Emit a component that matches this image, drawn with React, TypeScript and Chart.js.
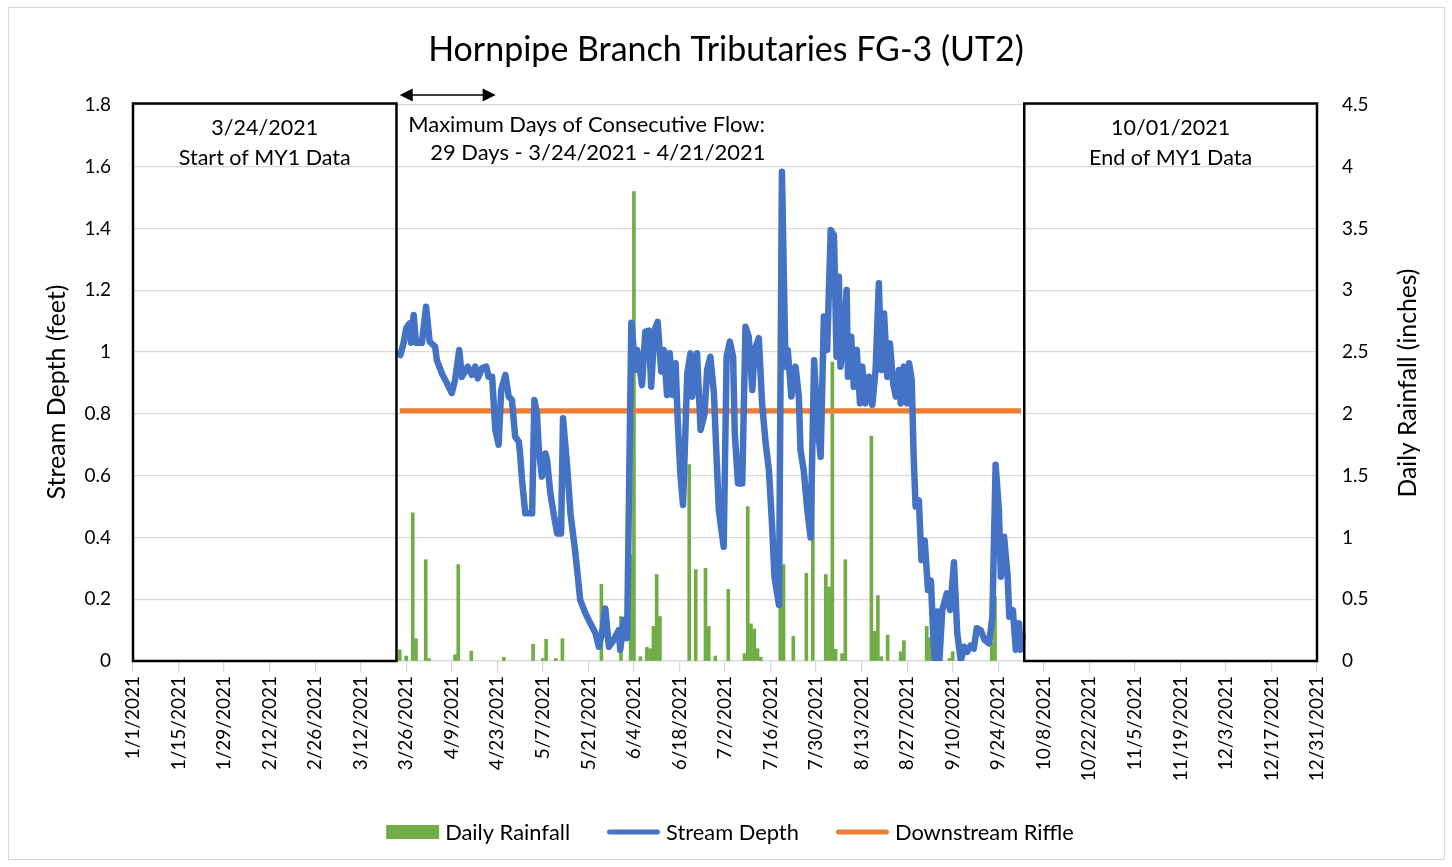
import React, { useEffect, useRef } from "react";
import { Chart, registerables } from "chart.js";

Chart.register(...registerables);

const FONT = "Lato, 'Open Sans', sans-serif";

const chartTitle = "Hornpipe Branch Tributaries FG-3 (UT2)";
const leftAxisTitle = "Stream Depth (feet)";
const rightAxisTitle = "Daily Rainfall (inches)";

const tickLabels = [
  "1/1/2021", "1/15/2021", "1/29/2021", "2/12/2021", "2/26/2021", "3/12/2021",
  "3/26/2021", "4/9/2021", "4/23/2021", "5/7/2021", "5/21/2021", "6/4/2021",
  "6/18/2021", "7/2/2021", "7/16/2021", "7/30/2021", "8/13/2021", "8/27/2021",
  "9/10/2021", "9/24/2021", "10/8/2021", "10/22/2021", "11/5/2021", "11/19/2021",
  "12/3/2021", "12/17/2021", "12/31/2021",
];

// day-of-year (0 = 1/1/2021) of each daily rainfall reading
const rainDay = [
  82, 84, 86, 87, 90, 91, 99, 100, 104, 114, 123, 126, 127, 130, 132,
  144, 150, 153, 154, 156, 158, 159, 160, 161, 162, 171, 173, 176, 177, 179,
  183, 188, 189, 190, 191, 192, 193, 199, 200, 203, 207, 209, 213, 214, 215,
  216, 218, 219, 227, 228, 229, 230, 232, 236, 237, 244, 245, 251, 252, 264, 265,
];
const rainIn = [
  0.09, 0.04, 1.2, 0.18, 0.82, 0.02, 0.05, 0.78, 0.08, 0.03, 0.135, 0.02, 0.175, 0.02, 0.18,
  0.62, 0.36, 0.86, 3.8, 0.035, 0.11, 0.1, 0.28, 0.7, 0.36, 1.59, 0.74, 0.75, 0.28, 0.04,
  0.58, 0.06, 1.25, 0.3, 0.26, 0.1, 0.03, 1.19, 0.78, 0.2, 0.71, 1.42, 0.7, 0.6, 2.42,
  0.095, 0.06, 0.82, 1.82, 0.24, 0.53, 0.035, 0.21, 0.075, 0.165, 0.28, 0.19, 0.02, 0.075, 0.15, 0.52,
];

// stream depth logger readings (day-of-year, feet)
const depthDay = [
  82.2, 83.2, 84, 85, 85.5, 86.3, 87, 88.8, 90.1, 91.2, 92.9, 93.4, 95, 96, 98, 99,
  100.3, 101.1, 102.9, 104.2, 105.2, 106, 107.3, 108.6, 109.3, 110.4, 111.4, 112.4, 113.2, 114.5,
  115.5, 116.5, 117.5, 118.6, 119, 119.6, 120.6, 122.7, 123.4, 124.2, 124.7, 125.7, 126.8, 127.3,
  128.3, 129.3, 130.4, 131.6, 132.2, 133.4, 134.5, 136, 137.5, 139.1, 140.6, 142.2, 143.2, 144.2,
  145.2, 146.3, 147.8, 149.3, 149.8, 150.9, 151.9, 153.2, 154.5, 155, 156.5, 157.5, 158.6, 159.3,
  160.3, 161.3, 162.4, 163.2, 164.2, 165, 166, 166.8, 167.5, 168.3, 169.1, 170.4, 171.4, 171.9,
  173.4, 174.5, 175.7, 176.5, 177.5, 178.6, 179.4, 180.1, 181.6, 182.5, 183.5, 184.5, 185, 186,
  187.3, 188.3, 189.3, 190.4, 191.1, 192.4, 193.4, 194.5, 195.5, 196.5, 197.2, 198.6, 199.5, 200.6,
  201.3, 202.4, 203.7, 204.7, 205.2, 206.2, 207.3, 208.3, 209.4, 210.5, 211.4, 212.4, 213.4, 214.5,
  215.5, 216.3, 217, 217.5, 218.6, 219.4, 219.8, 220.8, 221.6, 222.5, 223.5, 224.2, 225.2, 226.3,
  227.3, 228.3, 229.3, 230.1, 230.9, 231.9, 232.7, 233.7, 234.5, 235.5, 236, 237, 238, 238.6,
  239.4, 240, 240.6, 241.6, 242.4, 243.4, 244.4, 245.3, 246, 246.5, 247.3, 247.9, 248.8, 250.2,
  251.2, 252.4, 253.4, 254.5, 255.5, 256.5, 257.5, 258.5, 259.4, 260.6, 261.8, 263.2, 264.2, 265.2,
  266.2, 266.8, 267.8, 268.9, 269.4, 270.5, 271.4, 272.4, 272.9, 273.5,
];
const depthFt = [
  0.99, 1.03, 1.077, 1.093, 1.03, 1.12, 1.03, 1.03, 1.147, 1.034, 1.017, 0.974, 0.93, 0.91, 0.867, 0.91,
  1.007, 0.92, 0.953, 0.926, 0.953, 0.915, 0.948, 0.953, 0.92, 0.92, 0.748, 0.7, 0.877, 0.926,
  0.856, 0.845, 0.726, 0.71, 0.672, 0.586, 0.478, 0.478, 0.845, 0.8, 0.694, 0.597, 0.672, 0.65,
  0.543, 0.478, 0.413, 0.413, 0.786, 0.64, 0.478, 0.349, 0.197, 0.154, 0.122, 0.09, 0.046, 0.09,
  0.17, 0.046, 0.068, 0.1, 0.036, 0.133, 0.074, 1.095, 0.942, 1.007, 0.893, 1.066, 1.07, 0.888,
  1.07, 1.098, 0.937, 1.007, 0.861, 0.996, 0.861, 0.964, 0.77, 0.602, 0.505, 0.931, 0.996, 0.856,
  0.996, 0.748, 0.8, 0.942, 0.985, 0.867, 0.661, 0.489, 0.37, 0.985, 1.034, 0.985, 0.737, 0.575,
  0.575, 1.082, 1.05, 0.877, 1.007, 1.045, 0.834, 0.705, 0.618, 0.435, 0.273, 0.181, 1.584, 0.953,
  1.007, 0.856, 0.953, 0.856, 0.683, 0.618, 0.489, 0.4, 0.974, 0.759, 0.661, 1.115, 1.007, 1.395,
  1.379, 0.985, 1.244, 0.953, 1.05, 1.201, 0.92, 1.05, 0.888, 1.007, 0.834, 0.953, 0.834, 0.92,
  0.829, 0.942, 1.223, 0.942, 1.125, 0.92, 1.028, 0.899, 0.856, 0.942, 0.834, 0.953, 0.834, 0.964,
  0.91, 0.661, 0.5, 0.52, 0.327, 0.39, 0.23, 0.26, 0.09, 0.0, 0.16, 0.0, 0.165, 0.219,
  0.165, 0.32, 0.09, 0.0, 0.046, 0.03, 0.05, 0.04, 0.106, 0.1, 0.068, 0.057, 0.143, 0.635,
  0.489, 0.273, 0.402, 0.273, 0.143, 0.165, 0.036, 0.122, 0.036, 0.08,
];

const riffleDay = [82, 273];
const riffleFt = [0.81, 0.81];

const boxFromDay = [0, 274];
const boxToDay = [81, 364];
const boxDate = ["3/24/2021", "10/01/2021"];
const boxNote = ["Start of MY1 Data", "End of MY1 Data"];

const flowArrowDays = [82, 111.5];
const flowNote = ["Maximum Days of Consecutive Flow:", "29 Days - 3/24/2021 - 4/21/2021"];

const GREEN = "#70AD47";
const BLUE = "#4472C4";
const ORANGE = "#ED7D31";
const GRID = "#d9d9d9";

function fitSize(ctx: CanvasRenderingContext2D, text: string, width: number) {
  ctx.font = `100px ${FONT}`;
  return (100 * width) / ctx.measureText(text).width;
}

const fmt = (v: any) => String(parseFloat(Number(v).toFixed(2)));

const decorPlugin = {
  id: "decor",
  beforeDraw(chart: any) {
    const { ctx, width, height } = chart;
    ctx.save();
    ctx.fillStyle = "#fff";
    ctx.fillRect(0, 0, width, height);
    ctx.strokeStyle = GRID;
    ctx.lineWidth = 1;
    ctx.strokeRect(8.5, 7.5, 1436, 852);
    ctx.restore();
  },
  afterDraw(chart: any) {
    const { ctx, width, scales } = chart;
    const xs = scales.x;
    const ys = scales.y;
    ctx.save();
    ctx.fillStyle = "#000";
    ctx.textBaseline = "middle";

    // period boxes
    const boxSize = fitSize(ctx, boxNote[0], 172);
    for (let i = 0; i < boxFromDay.length; i++) {
      const x0 = xs.getPixelForValue(boxFromDay[i]);
      const x1 = xs.getPixelForValue(boxToDay[i]);
      const yt = ys.getPixelForValue(1.8) - 1.5;
      const yb = ys.getPixelForValue(0);
      ctx.strokeStyle = "#000";
      ctx.lineWidth = 2.5;
      ctx.strokeRect(x0, yt, x1 - x0, yb - yt);
      ctx.font = `${boxSize}px ${FONT}`;
      ctx.textAlign = "center";
      ctx.fillText(boxDate[i], (x0 + x1) / 2, yt + 25);
      ctx.fillText(boxNote[i], (x0 + x1) / 2, yt + 55);
    }

    // title
    const tSize = fitSize(ctx, chartTitle, 596);
    ctx.font = `${tSize}px ${FONT}`;
    ctx.textAlign = "center";
    ctx.fillText(chartTitle, width / 2, 50);

    // arrow
    const ax0 = xs.getPixelForValue(flowArrowDays[0]);
    const ax1 = xs.getPixelForValue(flowArrowDays[1]);
    const ay = 95;
    ctx.strokeStyle = "#000";
    ctx.lineWidth = 1.5;
    ctx.beginPath();
    ctx.moveTo(ax0 + 10, ay);
    ctx.lineTo(ax1 - 10, ay);
    ctx.stroke();
    ctx.beginPath();
    ctx.moveTo(ax0, ay);
    ctx.lineTo(ax0 + 13, ay - 6.5);
    ctx.lineTo(ax0 + 13, ay + 6.5);
    ctx.closePath();
    ctx.moveTo(ax1, ay);
    ctx.lineTo(ax1 - 13, ay - 6.5);
    ctx.lineTo(ax1 - 13, ay + 6.5);
    ctx.closePath();
    ctx.fill();

    // flow note
    const nSize = fitSize(ctx, flowNote[0], 357);
    ctx.font = `${nSize}px ${FONT}`;
    ctx.textAlign = "left";
    ctx.fillText(flowNote[0], ax0 + 8.5, 125);
    ctx.fillText(flowNote[1], ax0 + 30.5, 153);

    // axis titles
    const lSize = fitSize(ctx, leftAxisTitle, 215);
    ctx.font = `${lSize}px ${FONT}`;
    ctx.textAlign = "center";
    ctx.save();
    ctx.translate(57, 392);
    ctx.rotate(-Math.PI / 2);
    ctx.fillText(leftAxisTitle, 0, 0);
    ctx.restore();
    const rSize = fitSize(ctx, rightAxisTitle, 229);
    ctx.font = `${rSize}px ${FONT}`;
    ctx.save();
    ctx.translate(1408, 383);
    ctx.rotate(-Math.PI / 2);
    ctx.fillText(rightAxisTitle, 0, 0);
    ctx.restore();

    // legend
    const ds = chart.data.datasets;
    const legSize = fitSize(ctx, ds[0].label, 125);
    ctx.font = `${legSize}px ${FONT}`;
    const sym = 53;
    const gapText = 6;
    const gapItem = 37;
    const widths = ds.map((d: any) => ctx.measureText(d.label).width);
    const total =
      widths.reduce((a: number, b: number) => a + b, 0) + ds.length * (sym + gapText) + (ds.length - 1) * gapItem;
    let lx = 730 - total / 2;
    const ly = 832;
    ctx.textAlign = "left";
    ds.forEach((d: any, i: number) => {
      if (d.type === "bar") {
        ctx.fillStyle = d.backgroundColor;
        ctx.fillRect(lx, ly - 7, sym, 14);
      } else {
        ctx.strokeStyle = d.borderColor;
        ctx.lineWidth = 5;
        ctx.lineCap = "round";
        ctx.beginPath();
        ctx.moveTo(lx + 2.5, ly);
        ctx.lineTo(lx + sym - 2.5, ly);
        ctx.stroke();
      }
      ctx.fillStyle = "#000";
      ctx.fillText(d.label, lx + sym + gapText, ly + 1);
      lx += sym + gapText + widths[i] + gapItem;
    });
    ctx.restore();
  },
};

export default function App() {
  const ref = useRef<HTMLCanvasElement>(null);
  useEffect(() => {
    const tickFont = { family: FONT, size: 19 };
    const chart = new Chart(ref.current as HTMLCanvasElement, {
      type: "bar",
      data: {
        datasets: [
          {
            type: "bar",
            label: "Daily Rainfall",
            data: rainDay.map((d, i) => ({ x: d, y: rainIn[i] })),
            backgroundColor: GREEN,
            borderWidth: 0,
            barThickness: 3,
            yAxisID: "y2",
            order: 3,
          } as any,
          {
            type: "line",
            label: "Stream Depth",
            data: depthDay.map((d, i) => ({ x: d, y: depthFt[i] })),
            borderColor: BLUE,
            backgroundColor: BLUE,
            borderWidth: 6.5,
            pointRadius: 0,
            borderJoinStyle: "round",
            borderCapStyle: "round",
            tension: 0,
            yAxisID: "y",
            order: 1,
          },
          {
            type: "line",
            label: "Downstream Riffle",
            data: riffleDay.map((d, i) => ({ x: d, y: riffleFt[i] })),
            borderColor: ORANGE,
            backgroundColor: ORANGE,
            borderWidth: 5,
            pointRadius: 0,
            borderCapStyle: "butt",
            yAxisID: "y",
            order: 2,
          },
        ],
      },
      options: {
        responsive: false,
        animation: false,
        devicePixelRatio: 1,
        layout: { padding: { top: 105, left: 0, right: 0, bottom: 0 } },
        plugins: { legend: { display: false }, tooltip: { enabled: false }, title: { display: false } },
        scales: {
          x: {
            type: "linear",
            min: 0,
            max: 364,
            offset: false,
            ticks: {
              stepSize: 14,
              autoSkip: false,
              minRotation: 90,
              maxRotation: 90,
              padding: 4,
              color: "#000",
              font: tickFont,
              callback: (v: any) => tickLabels[Math.round(Number(v) / 14)] ?? "",
            },
            grid: { drawOnChartArea: false, color: GRID, tickColor: GRID, tickLength: 11, lineWidth: 1.3, offset: false },
            border: { display: true, color: GRID, width: 1.3 },
            afterFit: (s: any) => {
              s.height = 206;
            },
          },
          y: {
            position: "left",
            min: 0,
            max: 1.8,
            ticks: { stepSize: 0.2, padding: 22, color: "#000", font: tickFont, callback: fmt },
            grid: { color: GRID, lineWidth: 1.3, drawTicks: false },
            border: { display: false },
            afterFit: (s: any) => {
              s.width = 133;
            },
          },
          y2: {
            position: "right",
            min: 0,
            max: 4.5,
            ticks: { stepSize: 0.5, padding: 25, color: "#000", font: tickFont, callback: fmt },
            grid: { drawOnChartArea: false, drawTicks: false },
            border: { display: false },
            afterFit: (s: any) => {
              s.width = 135;
            },
          },
        },
      } as any,
      plugins: [decorPlugin],
    });
    return () => chart.destroy();
  }, []);
  return (
    <div style={{ position: "fixed", left: 0, top: 0, width: 1452, height: 867, background: "#fff" }}>
      <canvas ref={ref} width={1452} height={867} style={{ display: "block", width: 1452, height: 867 }} />
    </div>
  );
}
